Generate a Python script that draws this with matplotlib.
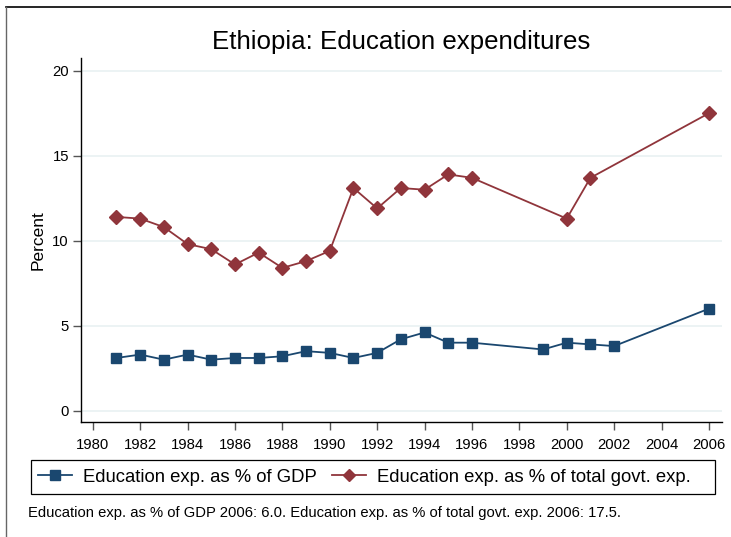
import matplotlib
matplotlib.use('Agg')
from matplotlib import pyplot
from matplotlib.lines import Line2D
from matplotlib.patches import Rectangle

pyplot.rcParams['font.family'] = ['Liberation Sans', 'DejaVu Sans']

gdp_years = [1981, 1982, 1983, 1984, 1985, 1986, 1987, 1988, 1989, 1990, 1991, 1992,
             1993, 1994, 1995, 1996, 1999, 2000, 2001, 2002, 2006]
gdp_share = [3.1, 3.3, 3.0, 3.3, 3.0, 3.1, 3.1, 3.2, 3.5, 3.4, 3.1, 3.4,
             4.2, 4.6, 4.0, 4.0, 3.6, 4.0, 3.9, 3.8, 6.0]

govt_years = [1981, 1982, 1983, 1984, 1985, 1986, 1987, 1988, 1989, 1990, 1991, 1992,
              1993, 1994, 1995, 1996, 2000, 2001, 2006]
govt_share = [11.4, 11.3, 10.8, 9.8, 9.5, 8.6, 9.3, 8.4, 8.8, 9.4, 13.1, 11.9,
              13.1, 13.0, 13.9, 13.7, 11.3, 13.7, 17.5]

x_ticks = list(range(1980, 2007, 2))
y_ticks = [0, 5, 10, 15, 20]

blue = '#1a476f'
red = '#90353b'

W, H = 731, 537

fig = pyplot.figure(figsize=(W / 100, H / 100), dpi=100, facecolor='white')
ax = fig.add_axes([0.1104, 0.2147, 0.8769, 0.6773])

ax.plot(gdp_years, gdp_share, color=blue, linewidth=1.3, marker='s', markersize=7,
        label='Education exp. as % of GDP', zorder=3)
ax.plot(govt_years, govt_share, color=red, linewidth=1.3, marker='D', markersize=6.8,
        label='Education exp. as % of total govt. exp.', zorder=3)

ax.set_xlim(1979.49, 2006.54)
ax.set_ylim(-0.65, 20.75)
ax.set_xticks(x_ticks)
ax.set_yticks(y_ticks)
ax.yaxis.grid(True, color='#eaf2f3', linewidth=1.3)
ax.set_axisbelow(True)

for spine in ('right', 'top'):
    ax.spines[spine].set_visible(False)
for spine in ('left', 'bottom'):
    ax.spines[spine].set_linewidth(1.0)
    ax.spines[spine].set_color('black')

ax.tick_params(axis='both', direction='out', length=6, width=1, color='#555555',
               labelsize=10.7)
ax.tick_params(axis='x', pad=5.5)
ax.tick_params(axis='y', pad=2.5)
ax.set_ylabel('Percent', fontsize=12.5, labelpad=5)

fig.text(0.5486, (H - 49) / H, 'Ethiopia: Education expenditures', ha='center',
         va='baseline', fontsize=18.6)

# legend: Stata style box with extra room on the right
fig.add_artist(Rectangle((30.7 / W, (H - 494) / H), (715 - 30.7) / W, 34 / H,
                         transform=fig.transFigure, facecolor='white', edgecolor='black',
                         linewidth=0.9))
handles = [
    Line2D([], [], color=blue, linewidth=1.3, marker='s', markersize=7),
    Line2D([], [], color=red, linewidth=1.3, marker='D', markersize=6.5),
]
labels = ['Education exp. as % of GDP', 'Education exp. as % of total govt. exp.']
fig.legend(handles, labels, loc='center left', bbox_to_anchor=(38 / W, (H - 477) / H),
           ncol=2, fontsize=13.3, frameon=False, handlelength=1.84,
           columnspacing=0.86, handletextpad=0.57, borderpad=0, borderaxespad=0)

fig.text(28.3 / W, (H - 517) / H,
         'Education exp. as % of GDP 2006: 6.0. Education exp. as % of total govt. exp. 2006: 17.5.',
         ha='left', va='baseline', fontsize=10.65)

# outer graph frame, cropped on the right and bottom
fig.add_artist(Line2D([0.0085, 1.0], [0.987, 0.987], color='black', linewidth=1.2,
                      transform=fig.transFigure))
fig.add_artist(Line2D([0.0085, 0.0085], [0.0, 0.987], color='#666666', linewidth=1.0,
                      transform=fig.transFigure))

fig.savefig('out.png', dpi=100, facecolor=fig.get_facecolor())
pyplot.close(fig)
